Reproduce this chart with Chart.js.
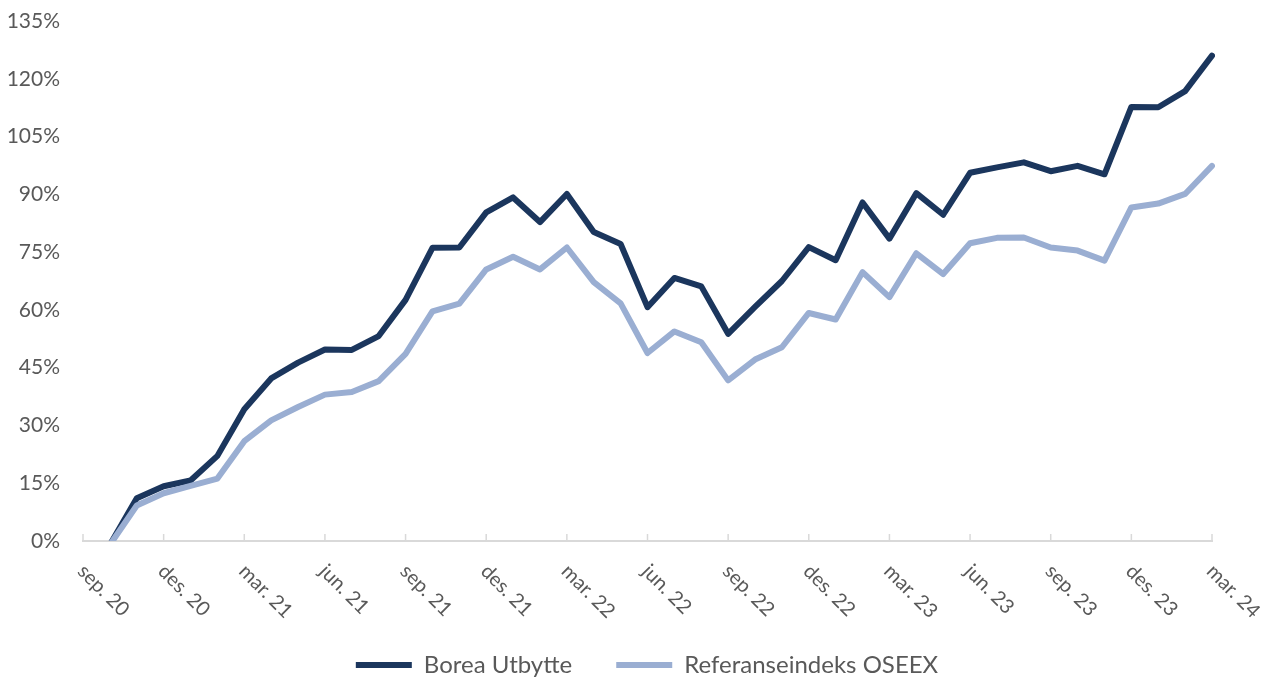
<!DOCTYPE html>
<html>
<head>
<meta charset="utf-8">
<title>Borea Utbytte vs OSEEX</title>
<script src="https://cdn.jsdelivr.net/npm/chart.js@4.4.1/dist/chart.umd.min.js"></script>
<style>
    html, body { margin: 0; padding: 0; background: #fff; }
    #wrap { width: 1274px; height: 678px; }
</style>
</head>
<body>
<div id="wrap"><canvas id="chart" width="1274" height="678"></canvas></div>
<script>
// Months on the x axis (sep. 20 - mar. 24), one label every third month is shown.
var months = [
    'sep. 20', 'okt. 20', 'nov. 20', 'des. 20', 'jan. 21', 'feb. 21', 'mar. 21', 'apr. 21', 'mai 21',
    'jun. 21', 'jul. 21', 'aug. 21', 'sep. 21', 'okt. 21', 'nov. 21', 'des. 21', 'jan. 22', 'feb. 22',
    'mar. 22', 'apr. 22', 'mai 22', 'jun. 22', 'jul. 22', 'aug. 22', 'sep. 22', 'okt. 22', 'nov. 22',
    'des. 22', 'jan. 23', 'feb. 23', 'mar. 23', 'apr. 23', 'mai 23', 'jun. 23', 'jul. 23', 'aug. 23',
    'sep. 23', 'okt. 23', 'nov. 23', 'des. 23', 'jan. 24', 'feb. 24', 'mar. 24'
];

// Cumulative return, percent.
var boreaUtbytte = [
    null, -1, 11.1, 14.2, 15.7, 22.1, 34.2, 42.2, 46.3, 49.7, 49.6, 53.2, 62.6, 76.1, 76.2,
    85.3, 89.2, 82.8, 90.1, 80.2, 77.1, 60.7, 68.3, 66.1, 53.8, 60.8, 67.5, 76.3, 72.9,
    87.9, 78.5, 90.3, 84.7, 95.6, 97.0, 98.3, 96.0, 97.4, 95.2, 112.7, 112.6, 116.8, 126.0
];
var referanseOseex = [
    null, -1, 9.2, 12.4, 14.3, 16.2, 25.9, 31.3, 34.8, 38.0, 38.7, 41.5, 48.6, 59.6, 61.6,
    70.5, 73.8, 70.5, 76.2, 67.2, 61.7, 48.8, 54.4, 51.6, 41.7, 47.1, 50.3, 59.2, 57.5,
    69.8, 63.3, 74.7, 69.3, 77.3, 78.7, 78.8, 76.2, 75.4, 72.8, 86.6, 87.6, 90.1, 97.4
];

var yMin = 0;
var yMax = 135;
var yStep = 15;
var labelEvery = 3;

var DARK = '#1b365d';
var LIGHT = '#9aaed2';
var TEXT = '#595959';
var AXIS = '#d9d9d9';
var FONT = 'Lato, "Open Sans", sans-serif';

// Excel style month axis: short tick marks inside the plot, labels turned 45deg clockwise.
var monthAxisPlugin = {
    id: 'monthAxis',
    afterInit: function(chart) {
        // keep the wide gap between legend items but not the tall legend box
        var legend = chart.legend;
        var fit = legend.fit;
        legend.fit = function() {
            fit.call(this);
            this.height = 69;
        };
    },
    afterLayout: function(chart) {
        // the original legend sits a bit right of the canvas centre
        chart.legend.left += 10;
        chart.legend.right += 10;
    },
    beforeDatasetsDraw: function(chart) {
        var ctx = chart.ctx;
        var xs = chart.scales.x;
        var bottom = chart.chartArea.bottom;
        ctx.save();
        ctx.strokeStyle = AXIS;
        ctx.lineWidth = 1.5;
        months.forEach(function(m, i) {
            if (i % labelEvery !== 0) { return; }
            var x = xs.getPixelForValue(i);
            ctx.beginPath();
            ctx.moveTo(x, bottom);
            ctx.lineTo(x, bottom - 7);
            ctx.stroke();
        });
        ctx.restore();
    },
    afterDraw: function(chart) {
        var ctx = chart.ctx;
        var xs = chart.scales.x;
        var bottom = chart.chartArea.bottom;
        ctx.save();
        ctx.fillStyle = TEXT;
        ctx.font = '20px ' + FONT;
        ctx.textAlign = 'left';
        ctx.textBaseline = 'middle';
        months.forEach(function(m, i) {
            if (i % labelEvery !== 0) { return; }
            var x = xs.getPixelForValue(i);
            ctx.save();
            ctx.translate(x - 2, bottom + 27);
            ctx.rotate(Math.PI / 4);
            ctx.fillText(m, 0, 0);
            ctx.restore();
        });
        ctx.restore();
    }
};

new Chart(document.getElementById('chart'), {
    type: 'line',
    data: {
        labels: months,
        datasets: [{
            label: 'Borea Utbytte',
            data: boreaUtbytte,
            borderColor: DARK,
            backgroundColor: DARK,
            borderWidth: 6,
            order: 1
        }, {
            label: 'Referanseindeks OSEEX',
            data: referanseOseex,
            borderColor: LIGHT,
            backgroundColor: LIGHT,
            borderWidth: 6,
            order: 0
        }]
    },
    options: {
        responsive: false,
        animation: false,
        devicePixelRatio: 1,
        layout: {padding: {top: 21, left: 0, right: 0, bottom: 0}},
        elements: {
            point: {radius: 0, hoverRadius: 0},
            line: {tension: 0, borderJoinStyle: 'round', borderCapStyle: 'round'}
        },
        plugins: {
            legend: {
                position: 'bottom',
                labels: {
                    color: TEXT,
                    font: {family: FONT, size: 24},
                    usePointStyle: true,
                    pointStyle: 'line',
                    pointStyleWidth: 56,
                    boxHeight: 6,
                    padding: 44,
                    sort: function(a, b) { return a.datasetIndex - b.datasetIndex; }
                }
            },
            tooltip: {enabled: false}
        },
        scales: {
            x: {
                type: 'category',
                offset: false,
                grid: {display: false},
                border: {display: true, color: AXIS, width: 2},
                ticks: {display: false},
                afterFit: function(scale) { scale.height = 68; }
            },
            y: {
                min: yMin,
                max: yMax,
                grid: {display: false},
                border: {display: false},
                ticks: {
                    stepSize: yStep,
                    padding: 15,
                    color: TEXT,
                    font: {family: FONT, size: 21},
                    callback: function(v) { return v + '%'; }
                },
                afterFit: function(scale) {
                    scale.width = 83;
                    scale.paddingTop = 0;
                    scale.paddingBottom = 0;
                }
            },
            yRight: {
                position: 'right',
                display: true,
                grid: {display: false},
                border: {display: false},
                ticks: {display: false},
                afterFit: function(scale) { scale.width = 62; }
            }
        }
    },
    plugins: [monthAxisPlugin]
});
</script>
</body>
</html>
